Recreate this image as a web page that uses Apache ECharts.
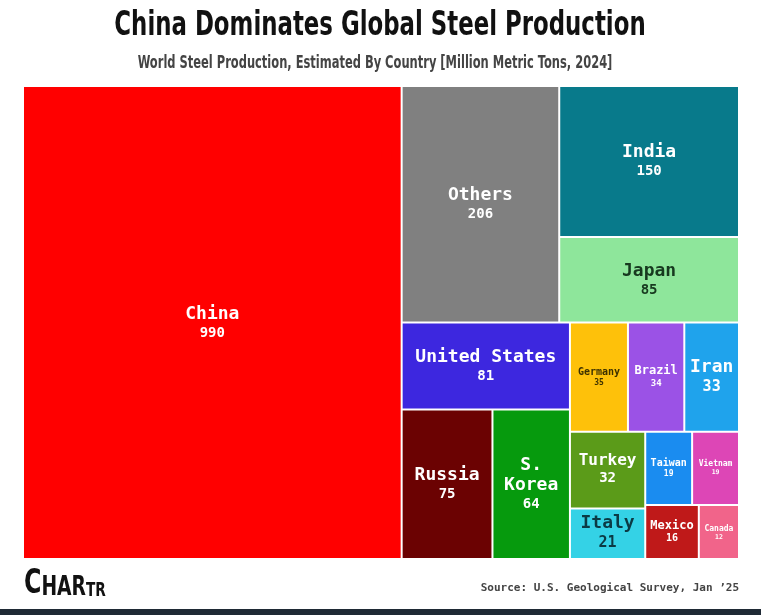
<!DOCTYPE html>
<html><head><meta charset="utf-8">
<script src="https://cdn.jsdelivr.net/npm/echarts@6/dist/echarts.min.js"></script>
<style>html,body{margin:0;padding:0;background:#fff}#main{width:761px;height:615px}</style>
</head><body><div id="main"></div>
<script>
// ---- data ----
const countries = ['China','Others','India','Japan','United States','Russia','S. Korea','Germany','Brazil','Iran','Turkey','Italy','Taiwan','Vietnam','Mexico','Canada'];
const production = [990, 206, 150, 85, 81, 75, 64, 35, 34, 33, 32, 21, 19, 19, 16, 12];
// grouping that reproduces the reference arrangement (nested blocks)
const grouping = ['China', [['Others', ['India','Japan']], [['United States', ['Russia','S. Korea']], [['Germany','Brazil','Iran'], [['Turkey','Italy'], [['Taiwan','Vietnam'], ['Mexico','Canada']]]]]]];
const titleText = 'China Dominates Global Steel Production';
const subtitleText = 'World Steel Production, Estimated By Country [Million Metric Tons, 2024]';
const sourceText = 'Source: U.S. Geological Survey, Jan \u201925';

// ---- styles ----
const fillColors = {
  'China':'#ff0000','Others':'#808080','India':'#087a8b','Japan':'#8ee69b','United States':'#3d27df',
  'Russia':'#6b0202','S. Korea':'#069a0d','Germany':'#fec10a','Brazil':'#9b52e6','Iran':'#1fa3ec',
  'Turkey':'#5b9b19','Italy':'#34d2e6','Taiwan':'#1a8cf0','Vietnam':'#dd46b6','Mexico':'#bf1919','Canada':'#f1648a'
};
const textColors = { 'Germany':'#3d3100', 'Japan':'#17391f', 'Italy':'#0b3a44' };
const labelSizes = {
  'China':[18,14],'Others':[18,14],'India':[18,14],'Japan':[18,14],'United States':[18,14],
  'Russia':[18,14],'S. Korea':[18,14],'Germany':[10,8],'Brazil':[12,9],'Iran':[18,15],
  'Turkey':[16,14],'Italy':[18,15],'Taiwan':[10,8],'Vietnam':[8,6.5],'Mexico':[12,10],'Canada':[8,6.5]
};
const displayNames = { 'S. Korea': 'S.\nKorea' };

const valueOf = {};
countries.forEach((c, i) => { valueOf[c] = production[i]; });

const MONO = '"DejaVu Sans Mono", "Liberation Mono", monospace';
const COND = '"DejaVu Sans Condensed", "DejaVu Sans", sans-serif';

function textBlockHeight(g) {
  const sz = labelSizes[g];
  const lines = (displayNames[g] || g).split('\n').length;
  return lines * Math.round(sz[0] * 1.12) + Math.round(sz[1] * 1.3);
}

function buildNode(g, padTops) {
  if (typeof g === 'string') {
    const sz = labelSizes[g];
    const col = textColors[g] || '#ffffff';
    const disp = (displayNames[g] || g).split('\n').map(s => '{n|' + s + '}').join('\n');
    const padTop = padTops && padTops[g] ? padTops[g] : 0;
    return {
      name: g,
      value: valueOf[g],
      itemStyle: { color: fillColors[g], borderWidth: 1, borderColor: '#ffffff' },
      label: {
        show: true,
        position: 'inside',
        align: 'center',
        padding: [padTop, 0, 0, 0],
        overflow: 'none',
        formatter: function (p) { return disp + '\n{v|' + p.value + '}'; },
        rich: {
          n: { fontFamily: MONO, fontWeight: 'bold', fontSize: sz[0], lineHeight: Math.round(sz[0] * 1.12), color: col, align: 'center' },
          v: { fontFamily: MONO, fontWeight: 'bold', fontSize: sz[1], lineHeight: Math.round(sz[1] * 1.3), color: col, align: 'center' }
        }
      }
    };
  }
  return { children: g.map(c => buildNode(c, padTops)) };
}

function seriesOf(padTops) {
  return [{
    type: 'treemap',
    left: 23, top: 86, width: 716, height: 473,
    squareRatio: 1,
    sort: false,
    roam: false,
    nodeClick: false,
    breadcrumb: { show: false },
    itemStyle: { borderWidth: 0, gapWidth: 0, borderColor: '#ffffff' },
    upperLabel: { show: false },
    emphasis: { disabled: true },
    data: grouping.map(g => buildNode(g, padTops))
  }];
}

const chart = echarts.init(document.getElementById('main'), null, { renderer: 'canvas' });
chart.setOption({
  backgroundColor: '#ffffff',
  animation: false,
  series: seriesOf(null),
  graphic: [
    { type: 'text', x: 380, y: 10, scaleX: 0.77,
      style: { text: titleText, font: 'bold 33px ' + COND, fill: '#111111', textAlign: 'center', textVerticalAlign: 'top' } },
    { type: 'text', x: 375, y: 55, scaleX: 0.75,
      style: { text: subtitleText, font: 'bold 17px ' + COND, fill: '#444444', textAlign: 'center', textVerticalAlign: 'top' } },
    { type: 'text', x: 24, y: 601, scaleX: 0.8,
      style: { text: '{a|C}{b|HAR}{c|TR}', textVerticalAlign: 'bottom',
        rich: {
          a: { fontFamily: COND, fontWeight: 'bold', fontSize: 33, fill: '#111', verticalAlign: 'bottom' },
          b: { fontFamily: COND, fontWeight: 'bold', fontSize: 26, fill: '#111', verticalAlign: 'bottom' },
          c: { fontFamily: COND, fontWeight: 'bold', fontSize: 19, fill: '#111', verticalAlign: 'bottom' }
        } } },
    { type: 'text', x: 739, y: 588,
      style: { text: sourceText, font: 'bold 11px ' + MONO, fill: '#444444', textAlign: 'right', textVerticalAlign: 'middle' } },
    { type: 'rect', x: 0, y: 609, shape: { width: 761, height: 6 }, style: { fill: '#1f2a35' } }
  ]
});

// second pass: centre each label vertically using the layout computed by the treemap
try {
  const padTops = {};
  const data = chart.getModel().getSeriesByIndex(0).getData();
  data.tree.eachNode(function (node) {
    if (node.children && node.children.length) return;
    const lay = node.getLayout();
    if (!lay || !node.name || !labelSizes[node.name]) return;
    const bw = lay.borderWidth || 0;
    const h = lay.height - 2 * bw;
    padTops[node.name] = Math.max(0, Math.round((h - textBlockHeight(node.name)) / 2));
  });
  chart.setOption({ series: seriesOf(padTops) }, { replaceMerge: ['series'] });
} catch (e) { console.error(e); }
</script></body></html>
